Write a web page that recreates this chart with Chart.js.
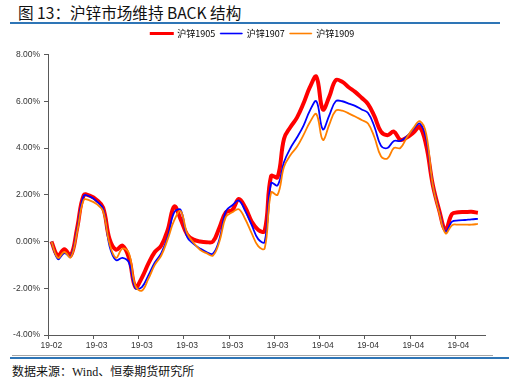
<!DOCTYPE html>
<html>
<head>
<meta charset="utf-8">
<script src="https://cdn.jsdelivr.net/npm/chart.js@4.4.1/dist/chart.umd.min.js"></script>
<style>
  body { margin: 0; background: #fff; }
  #wrap { position: relative; width: 509px; height: 377px; overflow: hidden; background: #fff; }
  #title { position: absolute; left: 18px; top: 1px; font: 15.6px "Noto Sans CJK SC", sans-serif; color: #111; white-space: nowrap; }
  .rule { position: absolute; }
  #chartBox { position: absolute; left: 0; top: 24px; width: 509px; height: 331px; }
  #source { position: absolute; left: 12px; top: 362px; font: 12px "Liberation Serif", "Noto Sans CJK SC", serif; color: #111; white-space: nowrap; }
</style>
</head>
<body>
<div id="wrap">
  <div id="title">图 13：沪锌市场维持 BACK 结构</div>
  <div class="rule" style="left:10px;top:22px;width:490px;height:2px;background:#2E75B6"></div>
  <div id="chartBox"><canvas id="chart" width="509" height="331"></canvas></div>
  <div class="rule" style="left:12px;top:355px;width:481px;height:1px;background:#A6A6A6"></div>
  <div class="rule" style="left:10px;top:357px;width:499px;height:2px;background:#2E75B6"></div>
  <div id="source">数据来源：Wind、恒泰期货研究所</div>
</div>
<script>
// x axis: one point per calendar day, a labelled tick every 7 days
const xTickLabels = ['19-02', '19-03', '19-03', '19-03', '19-03', '19-03', '19-04', '19-04', '19-04', '19-04'];
const seriesNames = ['沪锌1905', '沪锌1907', '沪锌1909'];

// spread, %
const zn1905 = [
  0.00, -0.60, -0.33, -0.60, 0.60, 1.98, 1.95, 1.78, 1.45, 0.10,
  -0.35, -0.18, -0.70, -1.95, -1.55, -0.95, -0.45, -0.17, 0.50, 1.50,
  0.95, 0.30, 0.08, 0.00, -0.03, 0.00, 0.60, 1.25, 1.35, 1.82,
  1.45, 0.85, 0.50, 0.45, 2.80, 2.75, 4.40, 4.90, 5.30, 5.90,
  6.60, 7.05, 5.65, 6.20, 6.90, 6.83, 6.60, 6.40, 6.15, 5.88,
  5.35, 4.70, 4.55, 4.70, 4.35, 4.45, 4.65, 4.90, 4.10, 2.45,
  1.35, 0.50, 1.18, 1.25, 1.26, 1.27, 1.23
];
const zn1907 = [
  0.00, -0.75, -0.50, -0.65, 0.55, 1.95, 1.92, 1.72, 1.40, -0.20,
  -0.80, -0.70, -0.90, -2.00, -1.95, -1.45, -0.90, -0.50, 0.20, 1.25,
  1.35, 0.20, -0.10, -0.30, -0.45, -0.52, 0.10, 1.30, 1.55, 1.75,
  1.30, 0.70, 0.10, -0.02, 2.50, 2.40, 3.40, 4.00, 4.45, 4.95,
  5.60, 6.00, 4.80, 5.40, 6.00, 6.00, 5.90, 5.80, 5.65, 5.50,
  4.90, 4.10, 4.00, 4.30, 4.30, 4.50, 4.80, 5.05, 4.40, 2.45,
  1.30, 0.42, 0.85, 0.90, 0.92, 0.95, 0.97
];
const zn1909 = [
  0.00, -0.70, -0.45, -0.68, 0.45, 1.78, 1.75, 1.60, 1.30, -0.10,
  -0.70, -0.30, -0.50, -1.90, -2.10, -1.60, -1.00, -0.60, 0.10, 0.90,
  1.30, 0.35, -0.05, -0.35, -0.50, -0.60, 0.00, 1.05, 1.25, 1.38,
  0.95, 0.35, -0.20, -0.30, 2.10, 2.00, 3.20, 3.70, 4.05, 4.55,
  5.10, 5.45, 4.35, 5.00, 5.60, 5.60, 5.48, 5.35, 5.20, 5.05,
  4.45, 3.65, 3.55, 4.00, 4.00, 4.45, 4.85, 5.15, 4.60, 2.45,
  1.25, 0.35, 0.70, 0.72, 0.72, 0.72, 0.75
];

const toPoints = arr => arr.map((v, i) => ({ x: i, y: v }));
const axisColor = '#595959';
const tickFont = { family: '"Liberation Sans", Arial, sans-serif', size: 8.5 };

// more room under the legend, and centre it on the page rather than the plot
const legendPlacement = {
  id: 'legendPlacement',
  beforeInit(chart) {
    const fit = chart.legend.fit;
    chart.legend.fit = function () {
      fit.bind(chart.legend)();
      this.height += 6.5;
    };
  },
  afterLayout(chart) {
    chart.legend.left += 10;
    chart.legend.right += 10;
  }
};

new Chart(document.getElementById('chart').getContext('2d'), {
  type: 'line',
  data: {
    datasets: [
      { label: seriesNames[0], data: toPoints(zn1905), borderColor: '#FF0000', borderWidth: 4, order: 3 },
      { label: seriesNames[1], data: toPoints(zn1907), borderColor: '#0000FF', borderWidth: 1.8, order: 2 },
      { label: seriesNames[2], data: toPoints(zn1909), borderColor: '#FF8000', borderWidth: 1.8, order: 1 }
    ]
  },
  options: {
    responsive: false,
    animation: false,
    layout: { padding: { left: 0, right: 24, top: 0, bottom: 0 } },
    elements: {
      point: { radius: 0 },
      line: { tension: 0.4, fill: false }
    },
    scales: {
      x: {
        type: 'linear',
        min: -0.53,
        max: 67.1,
        afterBuildTicks: scale => {
          scale.ticks = xTickLabels.map((_, j) => ({ value: -0.5 + 7 * j }));
        },
        afterFit: scale => { scale.height = 20; },
        ticks: {
          autoSkip: false,
          maxRotation: 0,
          labelOffset: 3.2,
          padding: 2,
          color: '#333',
          font: tickFont,
          callback: (v, i) => xTickLabels[i]
        },
        grid: { drawOnChartArea: false, drawTicks: true, tickLength: 4, color: axisColor },
        border: { display: true, color: axisColor, width: 1 }
      },
      y: {
        min: -4,
        max: 8,
        afterFit: scale => { scale.width = 48; },
        ticks: {
          stepSize: 2,
          padding: 4,
          color: '#333',
          font: tickFont,
          callback: v => v.toFixed(2) + '%'
        },
        grid: { drawOnChartArea: false, drawTicks: true, tickLength: 4, color: axisColor },
        border: { display: true, color: axisColor, width: 1 }
      }
    },
    plugins: {
      tooltip: { enabled: false },
      legend: {
        position: 'top',
        labels: {
          boxWidth: 22,
          boxHeight: 1,
          padding: 5,
          color: '#333',
          font: { family: '"Noto Sans CJK SC", sans-serif', size: 9 },
          generateLabels: chart => chart.data.datasets.map((d, i) => ({
            text: d.label,
            fillStyle: d.borderColor,
            strokeStyle: d.borderColor,
            lineWidth: i === 0 ? 2 : 0.6,
            datasetIndex: i,
            hidden: false
          }))
        }
      }
    }
  },
  plugins: [legendPlacement]
});
</script>
</body>
</html>
